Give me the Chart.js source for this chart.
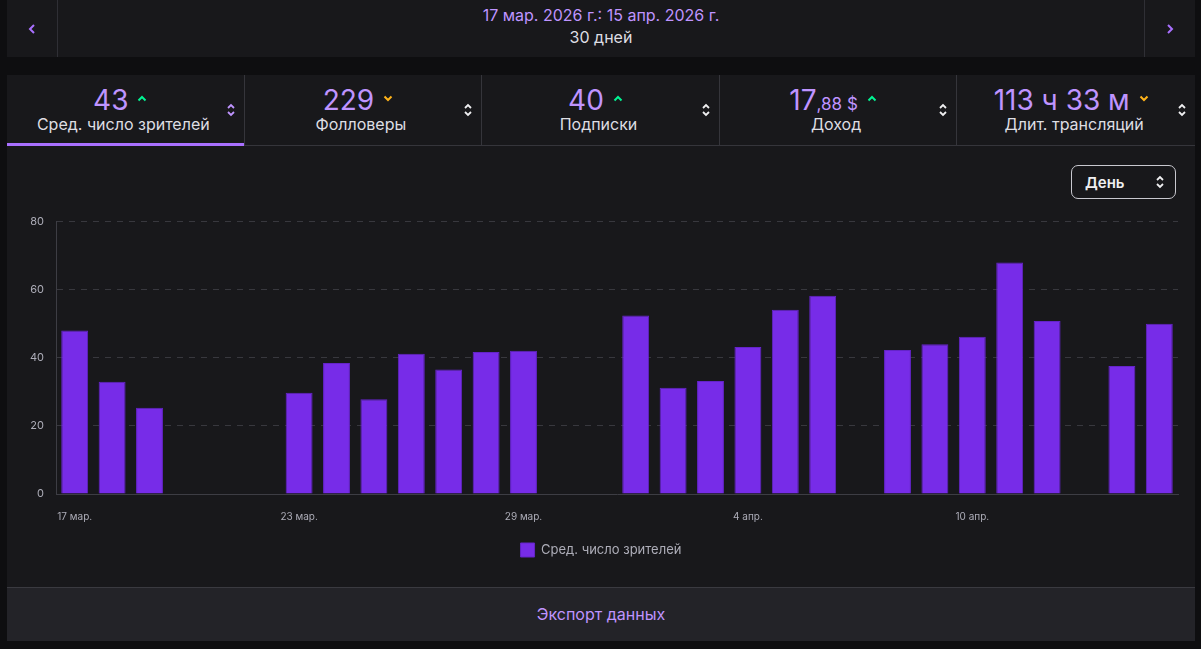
<!DOCTYPE html>
<html><head><meta charset="utf-8">
<script src="https://cdn.jsdelivr.net/npm/chart.js@4.4.1/dist/chart.umd.min.js"></script>
<style>
html,body{margin:0;padding:0;background:#0e0e10;width:1201px;height:649px;overflow:hidden;font-family:Inter,"Noto Sans",sans-serif;}
.hdr{position:absolute;left:7px;top:0;width:1188px;height:57px;background:#18181b;}
.hdr .l,.hdr .r{position:absolute;top:0;width:50px;height:57px;display:flex;align-items:center;justify-content:center;}
.hdr .l{left:0;border-right:1px solid #2f2f35;}
.hdr .r{right:0;border-left:1px solid #2f2f35;}
.hdr .d1{position:absolute;left:0;right:0;top:5px;text-align:center;color:#bf94ff;font-size:16px;}
.hdr .d2{position:absolute;left:0;right:0;top:27px;text-align:center;color:#dedee3;font-size:16px;}
.panel{position:absolute;left:7px;top:75px;width:1188px;height:566px;background:#18181b;}
.tabs{position:absolute;left:0;top:0;width:1188px;height:70px;border-bottom:1px solid #35353b;display:flex;}
.tab{position:relative;width:237.6px;height:70px;box-sizing:border-box;border-right:1px solid #35353b;}
.tab:last-child{border-right:none;}
.tab.act::after{content:"";position:absolute;left:0;right:0;bottom:-1px;height:3px;background:#a970ff;}
.val{position:absolute;left:0;right:10px;top:8px;text-align:center;color:#bf94ff;font-size:28px;line-height:34px;white-space:nowrap;}
.val small{font-size:17px;}
.val svg{margin-left:9px;vertical-align:8px;}
.lab{position:absolute;left:0;right:4px;top:38px;text-align:center;color:#dedee3;font-size:16px;line-height:22px;}
.sort{position:absolute;right:8px;top:27px;}
.dd{position:absolute;left:1064px;top:90px;width:105px;height:34px;border:1px solid #c8c8cf;border-radius:7px;box-sizing:border-box;}
.dd span{position:absolute;left:13px;top:7px;color:#efeff1;font-size:15px;font-weight:600;}
.dd svg{position:absolute;right:10px;top:9px;}
#wrap{position:absolute;left:0;top:128px;width:1188px;height:364px;}
.exp{position:absolute;left:0;top:512px;width:1188px;height:54px;background:#232328;border-top:1px solid #3a3a40;box-sizing:border-box;text-align:center;line-height:52px;color:#bf94ff;font-size:16px;}
</style></head>
<body>
<div class="hdr">
  <div class="l"><svg width="8" height="12" viewBox="0 0 8 12"><path d="M6 2 L2 6 L6 10" stroke="#a970ff" stroke-width="2" fill="none"/></svg></div>
  <div class="d1">17 мар. 2026 г.: 15 апр. 2026 г.</div>
  <div class="d2">30 дней</div>
  <div class="r"><svg width="8" height="12" viewBox="0 0 8 12"><path d="M2 2 L6 6 L2 10" stroke="#a970ff" stroke-width="2" fill="none"/></svg></div>
</div>
<div class="panel">
  <div class="tabs" id="tabs"></div>
  <div class="dd"><span>День</span><svg width="10" height="14" viewBox="0 0 10 14"><path d="M2 5 L5 2 L8 5 M2 9 L5 12 L8 9" stroke="#efeff1" stroke-width="1.8" fill="none"/></svg></div>
  <div id="wrap"><canvas id="c" width="1188" height="364"></canvas></div>
  <div class="exp">Экспорт данных</div>
</div>
<script>
const categories = ["17 мар.","18 мар.","19 мар.","20 мар.","21 мар.","22 мар.","23 мар.","24 мар.","25 мар.","26 мар.","27 мар.","28 мар.","29 мар.","30 мар.","31 мар.","1 апр.","2 апр.","3 апр.","4 апр.","5 апр.","6 апр.","7 апр.","8 апр.","9 апр.","10 апр.","11 апр.","12 апр.","13 апр.","14 апр.","15 апр."];
const viewers = [48,33,25.3,0,0,0,29.7,38.5,27.8,41.2,36.6,41.7,42.1,0,0,52.4,31.2,33.2,43.2,54.1,58.2,0,42.3,44.0,46.2,68.0,50.8,0,37.6,50];
const yTicks = [0,20,40,60,80];
const seriesName = "Сред. число зрителей";
const tabValues = ["43","229","40","17|,88 $","113 ч 33 м"];
const tabLabels = ["Сред. число зрителей","Фолловеры","Подписки","Доход","Длит. трансляций"];
const tabTrend = ["up","down","up","up","down"];

const up = '<svg width="10" height="7" viewBox="0 0 10 7"><path d="M1.5 5.5 L5 2 L8.5 5.5" stroke="#00f593" stroke-width="2" fill="none"/></svg>';
const down = '<svg width="10" height="7" viewBox="0 0 10 7"><path d="M1.5 1.5 L5 5 L8.5 1.5" stroke="#ffb31a" stroke-width="2" fill="none"/></svg>';
const sortIcon = c => '<svg width="10" height="16" viewBox="0 0 10 16"><path d="M2 6 L5 3 L8 6 M2 10 L5 13 L8 10" stroke="'+c+'" stroke-width="1.8" fill="none"/></svg>';
const tabs = document.getElementById('tabs');
tabValues.forEach((v,i)=>{
  const t = document.createElement('div');
  t.className = 'tab' + (i===0?' act':'');
  let vv = v.includes('|') ? v.split('|')[0]+'<small>'+v.split('|')[1]+'</small>' : v;
  t.innerHTML = '<div class="val">'+vv+(tabTrend[i]==='up'?up:down)+'</div><div class="lab">'+tabLabels[i]+'</div><div class="sort">'+sortIcon(i===0?'#bf94ff':'#efeff1')+'</div>';
  tabs.appendChild(t);
});

new Chart(document.getElementById('c'), {
  type:'bar',
  data:{labels:categories, datasets:[{label:seriesName, data:viewers, backgroundColor:'#772ce8', borderColor:'#6424c8', borderWidth:1, barPercentage:0.9, categoryPercentage:0.8}]},
  options:{
    responsive:false, animation:false,
    layout:{padding:{left:17,right:17,top:0,bottom:0}},
    plugins:{
      legend:{position:'bottom', labels:{color:'#adadb8', font:{family:'Inter', size:13}, boxWidth:14, boxHeight:14, padding:11}},
      tooltip:{enabled:false}
    },
    scales:{
      x:{
        grid:{display:false},
        border:{color:'#3d3d44'},
        ticks:{color:'#adadb8', font:{family:'Inter', size:10}, autoSkip:false, maxRotation:0, padding:9,
          callback:function(v,i){return i%6===0?categories[i]:'';}}
      },
      y:{
        min:0,max:80,
        afterFit:function(s){s.width=32;},
        afterBuildTicks:function(s){s.ticks=yTicks.map(v=>({value:v}));},
        grid:{color:'#38383e', drawTicks:false},
        border:{color:'#3d3d44', dash:[6,6]},
        ticks:{color:'#adadb8', font:{family:'Inter', size:11}, padding:12}
      }
    }
  }
});
</script>
</body></html>
